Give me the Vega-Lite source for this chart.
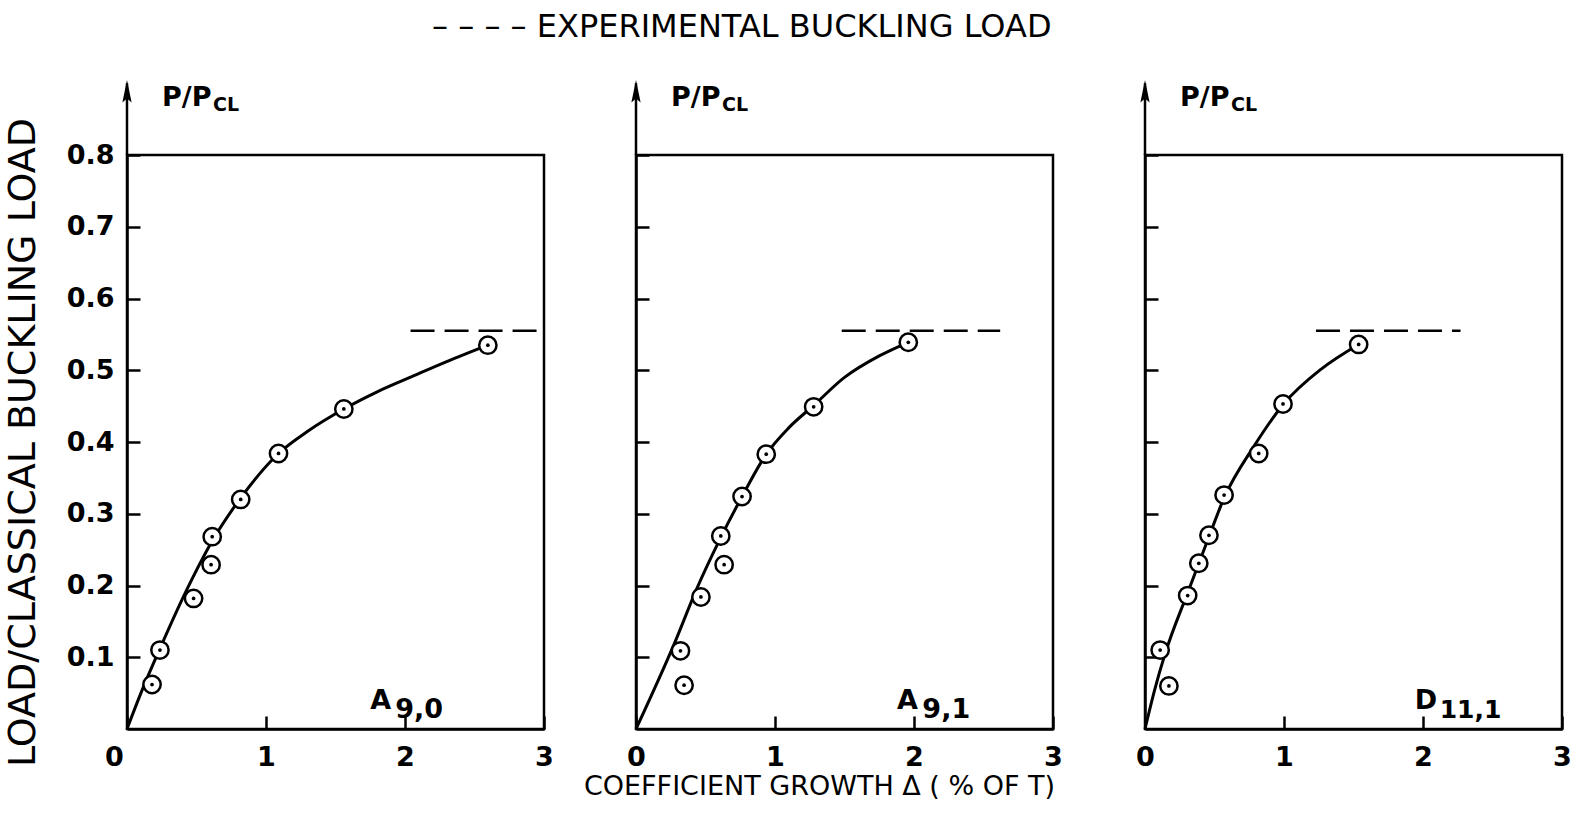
{
  "$schema": "https://vega.github.io/schema/vega-lite/v6.json",
  "padding": {"left": 2, "top": 10, "right": 5, "bottom": 5},
  "background": "white",
  "bounds": "flush",
  "title": {"text": "– – – –  EXPERIMENTAL BUCKLING LOAD", "fontSize": 32, "font": "DejaVu Sans", "fontWeight": "normal", "color": "black", "anchor": "middle", "dx": -46, "offset": 35},
  "datasets": {
    "pts": [
      {"panel": "A90", "x": 0.18, "y": 0.062}, {"panel": "A90", "x": 0.237, "y": 0.110}, {"panel": "A90", "x": 0.479, "y": 0.182},
      {"panel": "A90", "x": 0.605, "y": 0.229}, {"panel": "A90", "x": 0.613, "y": 0.268}, {"panel": "A90", "x": 0.818, "y": 0.320},
      {"panel": "A90", "x": 1.09, "y": 0.384}, {"panel": "A90", "x": 1.56, "y": 0.446}, {"panel": "A90", "x": 2.596, "y": 0.535},
      {"panel": "A91", "x": 0.346, "y": 0.061}, {"panel": "A91", "x": 0.32, "y": 0.109}, {"panel": "A91", "x": 0.467, "y": 0.184},
      {"panel": "A91", "x": 0.634, "y": 0.229}, {"panel": "A91", "x": 0.61, "y": 0.269}, {"panel": "A91", "x": 0.763, "y": 0.324},
      {"panel": "A91", "x": 0.937, "y": 0.383}, {"panel": "A91", "x": 1.278, "y": 0.449}, {"panel": "A91", "x": 1.959, "y": 0.539},
      {"panel": "D111", "x": 0.172, "y": 0.060}, {"panel": "D111", "x": 0.109, "y": 0.110}, {"panel": "D111", "x": 0.307, "y": 0.186},
      {"panel": "D111", "x": 0.387, "y": 0.231}, {"panel": "D111", "x": 0.46, "y": 0.270}, {"panel": "D111", "x": 0.569, "y": 0.326},
      {"panel": "D111", "x": 0.818, "y": 0.384}, {"panel": "D111", "x": 0.993, "y": 0.453}, {"panel": "D111", "x": 1.537, "y": 0.536}
    ],
    "curve": [
      {"panel": "A90", "x": 0, "y": 0}, {"panel": "A90", "x": 0.1, "y": 0.05}, {"panel": "A90", "x": 0.237, "y": 0.112},
      {"panel": "A90", "x": 0.42, "y": 0.19}, {"panel": "A90", "x": 0.613, "y": 0.262}, {"panel": "A90", "x": 0.818, "y": 0.322},
      {"panel": "A90", "x": 1.09, "y": 0.384}, {"panel": "A90", "x": 1.3, "y": 0.415}, {"panel": "A90", "x": 1.56, "y": 0.446},
      {"panel": "A90", "x": 1.8, "y": 0.47}, {"panel": "A90", "x": 2.06, "y": 0.492}, {"panel": "A90", "x": 2.3, "y": 0.512},
      {"panel": "A90", "x": 2.596, "y": 0.535},
      {"panel": "A91", "x": 0, "y": 0}, {"panel": "A91", "x": 0.278, "y": 0.12}, {"panel": "A91", "x": 0.436, "y": 0.195},
      {"panel": "A91", "x": 0.605, "y": 0.265}, {"panel": "A91", "x": 0.763, "y": 0.324}, {"panel": "A91", "x": 0.937, "y": 0.383},
      {"panel": "A91", "x": 1.1, "y": 0.42}, {"panel": "A91", "x": 1.278, "y": 0.451}, {"panel": "A91", "x": 1.5, "y": 0.49},
      {"panel": "A91", "x": 1.75, "y": 0.52}, {"panel": "A91", "x": 1.959, "y": 0.539},
      {"panel": "D111", "x": 0, "y": 0}, {"panel": "D111", "x": 0.07, "y": 0.055}, {"panel": "D111", "x": 0.145, "y": 0.105},
      {"panel": "D111", "x": 0.307, "y": 0.19}, {"panel": "D111", "x": 0.46, "y": 0.268}, {"panel": "D111", "x": 0.569, "y": 0.322},
      {"panel": "D111", "x": 0.787, "y": 0.395}, {"panel": "D111", "x": 0.993, "y": 0.452}, {"panel": "D111", "x": 1.27, "y": 0.502},
      {"panel": "D111", "x": 1.537, "y": 0.536}
    ],
    "exp": [
      {"panel": "A90", "x": 2.04, "x2": 2.96, "y": 0.555},
      {"panel": "A91", "x": 1.48, "x2": 2.62, "y": 0.555},
      {"panel": "D111", "x": 1.23, "x2": 2.27, "y": 0.555}
    ]
  },
  "spacing": 92,
  "hconcat": [
    {
      "width": 417, "height": 574,
      "layer": [
        {"data": {"name": "curve"}, "transform": [{"filter": "datum.panel == 'A90'"}],
         "mark": {"type": "line", "color": "black", "strokeWidth": 3, "interpolate": "monotone"},
         "encoding": {
           "x": {"field": "x", "type": "quantitative", "scale": {"domain": [0, 3], "nice": false},
                 "axis": {"values": [0, 1, 2, 3], "format": "d", "title": null, "labelFlush": false, "labelPadding": 28,
                          "labelOffset": {"condition": {"test": "datum.value === 0", "value": -13}, "value": 0}}},
           "y": {"field": "y", "type": "quantitative", "scale": {"domain": [0, 0.8], "nice": false},
                 "axis": {"values": [0.1, 0.2, 0.3, 0.4, 0.5, 0.6, 0.7, 0.8], "format": ".1f", "labelPadding": 26,
                          "title": "LOAD/CLASSICAL BUCKLING LOAD", "titleFontSize": 38, "titlePadding": 24}},
           "order": {"field": "x"}}},
        {"data": {"values": [{}]}, "mark": {"type": "rule", "color": "black", "strokeWidth": 2.5},
         "encoding": {"x": {"datum": 0, "type": "quantitative"}, "y": {"datum": 0.8, "type": "quantitative"}, "y2": {"datum": 0.9}}},
        {"data": {"values": [{}]}, "mark": {"type": "point", "shape": "M0,-1L-0.35,0.7L0,0.4L0.35,0.7Z", "filled": true, "color": "black", "size": 700, "opacity": 1},
         "encoding": {"x": {"datum": 0, "type": "quantitative"}, "y": {"datum": 0.886, "type": "quantitative"}}},
        {"data": {"name": "exp"}, "transform": [{"filter": "datum.panel == 'A90'"}],
         "mark": {"type": "rule", "color": "black", "strokeWidth": 2.5, "strokeDash": [24, 10]},
         "encoding": {"x": {"field": "x", "type": "quantitative"}, "x2": {"field": "x2"}, "y": {"field": "y", "type": "quantitative"}}},
        {"data": {"name": "pts"}, "transform": [{"filter": "datum.panel == 'A90'"}],
         "mark": {"type": "point", "shape": "circle", "filled": false, "color": "black", "size": 300, "strokeWidth": 2.5, "opacity": 1, "fill": "white", "fillOpacity": 1},
         "encoding": {"x": {"field": "x", "type": "quantitative"}, "y": {"field": "y", "type": "quantitative"}}},
        {"data": {"name": "pts"}, "transform": [{"filter": "datum.panel == 'A90'"}],
         "mark": {"type": "point", "shape": "circle", "filled": true, "color": "black", "size": 14, "opacity": 1},
         "encoding": {"x": {"field": "x", "type": "quantitative"}, "y": {"field": "y", "type": "quantitative"}}},
        {"data": {"values": [{}]}, "mark": {"type": "text", "text": "P/P", "fontSize": 27, "fontWeight": "bold", "align": "left", "baseline": "alphabetic", "dx": 35, "color": "black"},
         "encoding": {"x": {"datum": 0, "type": "quantitative"}, "y": {"datum": 0.8676, "type": "quantitative"}}},
        {"data": {"values": [{}]}, "mark": {"type": "text", "text": "CL", "fontSize": 19, "fontWeight": "bold", "align": "left", "baseline": "alphabetic", "dx": 86, "color": "black"},
         "encoding": {"x": {"datum": 0, "type": "quantitative"}, "y": {"datum": 0.861, "type": "quantitative"}}},
        {"data": {"values": [{}]}, "mark": {"type": "text", "text": "A", "fontSize": 27, "fontWeight": "bold", "align": "left", "baseline": "alphabetic", "color": "black"},
         "encoding": {"x": {"datum": 1.75, "type": "quantitative"}, "y": {"datum": 0.028, "type": "quantitative"}}},
        {"data": {"values": [{}]}, "mark": {"type": "text", "text": "9,0", "fontSize": 27, "fontWeight": "bold", "align": "left", "baseline": "alphabetic", "color": "black"},
         "encoding": {"x": {"datum": 1.93, "type": "quantitative"}, "y": {"datum": 0.015, "type": "quantitative"}}}
      ]
    },
    {
      "width": 417, "height": 574,
      "layer": [
        {"data": {"name": "curve"}, "transform": [{"filter": "datum.panel == 'A91'"}],
         "mark": {"type": "line", "color": "black", "strokeWidth": 3, "interpolate": "monotone"},
         "encoding": {
           "x": {"field": "x", "type": "quantitative", "scale": {"domain": [0, 3], "nice": false},
                 "axis": {"values": [0, 1, 2, 3], "format": "d", "labelFlush": false, "labelPadding": 28,
                          "title": "COEFFICIENT GROWTH Δ ( % OF T)", "titleFontSize": 27, "titleX": 183, "titlePadding": 3}},
           "y": {"field": "y", "type": "quantitative", "scale": {"domain": [0, 0.8], "nice": false},
                 "axis": {"values": [0.1, 0.2, 0.3, 0.4, 0.5, 0.6, 0.7, 0.8], "labels": false, "title": null}},
           "order": {"field": "x"}}},
        {"data": {"values": [{}]}, "mark": {"type": "rule", "color": "black", "strokeWidth": 2.5},
         "encoding": {"x": {"datum": 0, "type": "quantitative"}, "y": {"datum": 0.8, "type": "quantitative"}, "y2": {"datum": 0.9}}},
        {"data": {"values": [{}]}, "mark": {"type": "point", "shape": "M0,-1L-0.35,0.7L0,0.4L0.35,0.7Z", "filled": true, "color": "black", "size": 700, "opacity": 1},
         "encoding": {"x": {"datum": 0, "type": "quantitative"}, "y": {"datum": 0.886, "type": "quantitative"}}},
        {"data": {"name": "exp"}, "transform": [{"filter": "datum.panel == 'A91'"}],
         "mark": {"type": "rule", "color": "black", "strokeWidth": 2.5, "strokeDash": [24, 10]},
         "encoding": {"x": {"field": "x", "type": "quantitative"}, "x2": {"field": "x2"}, "y": {"field": "y", "type": "quantitative"}}},
        {"data": {"name": "pts"}, "transform": [{"filter": "datum.panel == 'A91'"}],
         "mark": {"type": "point", "shape": "circle", "filled": false, "color": "black", "size": 300, "strokeWidth": 2.5, "opacity": 1, "fill": "white", "fillOpacity": 1},
         "encoding": {"x": {"field": "x", "type": "quantitative"}, "y": {"field": "y", "type": "quantitative"}}},
        {"data": {"name": "pts"}, "transform": [{"filter": "datum.panel == 'A91'"}],
         "mark": {"type": "point", "shape": "circle", "filled": true, "color": "black", "size": 14, "opacity": 1},
         "encoding": {"x": {"field": "x", "type": "quantitative"}, "y": {"field": "y", "type": "quantitative"}}},
        {"data": {"values": [{}]}, "mark": {"type": "text", "text": "P/P", "fontSize": 27, "fontWeight": "bold", "align": "left", "baseline": "alphabetic", "dx": 35, "color": "black"},
         "encoding": {"x": {"datum": 0, "type": "quantitative"}, "y": {"datum": 0.8676, "type": "quantitative"}}},
        {"data": {"values": [{}]}, "mark": {"type": "text", "text": "CL", "fontSize": 19, "fontWeight": "bold", "align": "left", "baseline": "alphabetic", "dx": 86, "color": "black"},
         "encoding": {"x": {"datum": 0, "type": "quantitative"}, "y": {"datum": 0.861, "type": "quantitative"}}},
        {"data": {"values": [{}]}, "mark": {"type": "text", "text": "A", "fontSize": 27, "fontWeight": "bold", "align": "left", "baseline": "alphabetic", "color": "black"},
         "encoding": {"x": {"datum": 1.877, "type": "quantitative"}, "y": {"datum": 0.028, "type": "quantitative"}}},
        {"data": {"values": [{}]}, "mark": {"type": "text", "text": "9,1", "fontSize": 27, "fontWeight": "bold", "align": "left", "baseline": "alphabetic", "color": "black"},
         "encoding": {"x": {"datum": 2.06, "type": "quantitative"}, "y": {"datum": 0.015, "type": "quantitative"}}}
      ]
    },
    {
      "width": 417, "height": 574,
      "layer": [
        {"data": {"name": "curve"}, "transform": [{"filter": "datum.panel == 'D111'"}],
         "mark": {"type": "line", "color": "black", "strokeWidth": 3, "interpolate": "monotone"},
         "encoding": {
           "x": {"field": "x", "type": "quantitative", "scale": {"domain": [0, 3], "nice": false},
                 "axis": {"values": [0, 1, 2, 3], "format": "d", "labelFlush": false, "labelPadding": 28, "title": null}},
           "y": {"field": "y", "type": "quantitative", "scale": {"domain": [0, 0.8], "nice": false},
                 "axis": {"values": [0.1, 0.2, 0.3, 0.4, 0.5, 0.6, 0.7, 0.8], "labels": false, "title": null}},
           "order": {"field": "x"}}},
        {"data": {"values": [{}]}, "mark": {"type": "rule", "color": "black", "strokeWidth": 2.5},
         "encoding": {"x": {"datum": 0, "type": "quantitative"}, "y": {"datum": 0.8, "type": "quantitative"}, "y2": {"datum": 0.9}}},
        {"data": {"values": [{}]}, "mark": {"type": "point", "shape": "M0,-1L-0.35,0.7L0,0.4L0.35,0.7Z", "filled": true, "color": "black", "size": 700, "opacity": 1},
         "encoding": {"x": {"datum": 0, "type": "quantitative"}, "y": {"datum": 0.886, "type": "quantitative"}}},
        {"data": {"name": "exp"}, "transform": [{"filter": "datum.panel == 'D111'"}],
         "mark": {"type": "rule", "color": "black", "strokeWidth": 2.5, "strokeDash": [24, 10]},
         "encoding": {"x": {"field": "x", "type": "quantitative"}, "x2": {"field": "x2"}, "y": {"field": "y", "type": "quantitative"}}},
        {"data": {"name": "pts"}, "transform": [{"filter": "datum.panel == 'D111'"}],
         "mark": {"type": "point", "shape": "circle", "filled": false, "color": "black", "size": 300, "strokeWidth": 2.5, "opacity": 1, "fill": "white", "fillOpacity": 1},
         "encoding": {"x": {"field": "x", "type": "quantitative"}, "y": {"field": "y", "type": "quantitative"}}},
        {"data": {"name": "pts"}, "transform": [{"filter": "datum.panel == 'D111'"}],
         "mark": {"type": "point", "shape": "circle", "filled": true, "color": "black", "size": 14, "opacity": 1},
         "encoding": {"x": {"field": "x", "type": "quantitative"}, "y": {"field": "y", "type": "quantitative"}}},
        {"data": {"values": [{}]}, "mark": {"type": "text", "text": "P/P", "fontSize": 27, "fontWeight": "bold", "align": "left", "baseline": "alphabetic", "dx": 35, "color": "black"},
         "encoding": {"x": {"datum": 0, "type": "quantitative"}, "y": {"datum": 0.8676, "type": "quantitative"}}},
        {"data": {"values": [{}]}, "mark": {"type": "text", "text": "CL", "fontSize": 19, "fontWeight": "bold", "align": "left", "baseline": "alphabetic", "dx": 86, "color": "black"},
         "encoding": {"x": {"datum": 0, "type": "quantitative"}, "y": {"datum": 0.861, "type": "quantitative"}}},
        {"data": {"values": [{}]}, "mark": {"type": "text", "text": "D", "fontSize": 27, "fontWeight": "bold", "align": "left", "baseline": "alphabetic", "color": "black"},
         "encoding": {"x": {"datum": 1.94, "type": "quantitative"}, "y": {"datum": 0.028, "type": "quantitative"}}},
        {"data": {"values": [{}]}, "mark": {"type": "text", "text": "11,1", "fontSize": 25, "fontWeight": "bold", "align": "left", "baseline": "alphabetic", "color": "black"},
         "encoding": {"x": {"datum": 2.12, "type": "quantitative"}, "y": {"datum": 0.015, "type": "quantitative"}}}
      ]
    }
  ],
  "config": {
    "font": "DejaVu Sans",
    "view": {"stroke": "black", "strokeWidth": 2.5},
    "axis": {"domainColor": "black", "domainWidth": 2.5, "tickColor": "black", "tickWidth": 2.5, "tickSize": -13, "grid": false,
             "labelColor": "black", "labelFont": "DejaVu Sans", "labelFontSize": 27, "labelFontWeight": "bold",
             "titleColor": "black", "titleFont": "DejaVu Sans", "titleFontWeight": "normal"}
  }
}
